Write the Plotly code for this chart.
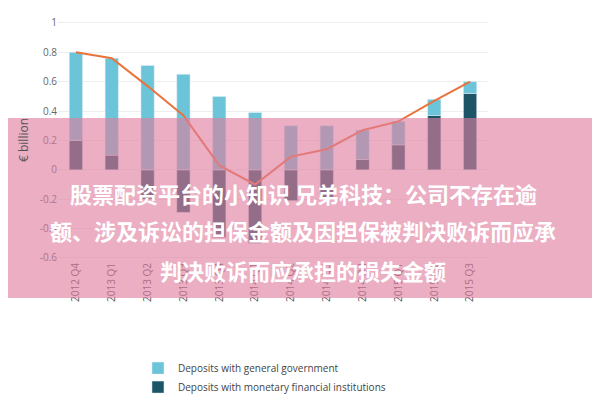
import plotly.graph_objects as go

quarters = ["2012 Q4","2013 Q1","2013 Q2","2013 Q3","2013 Q4","2014 Q1","2014 Q2","2014 Q3","2014 Q4","2015 Q1","2015 Q2","2015 Q3"]
gov = [0.60, 0.66, 0.71, 0.65, 0.50, 0.39, 0.30, 0.30, 0.20, 0.16, 0.11, 0.08]
mfi = [0.20, 0.10, -0.20, -0.29, -0.46, -0.50, -0.21, -0.20, 0.07, 0.17, 0.37, 0.52]
total = [0.80, 0.76, 0.57, 0.37, 0.03, -0.10, 0.09, 0.14, 0.27, 0.33, 0.47, 0.60]
overlay_lines = ["股票配资平台的小知识 兄弟科技：公司不存在逾",
                 "额、涉及诉讼的担保金额及因担保被判决败诉而应承",
                 "判决败诉而应承担的损失金额"]

fig = go.Figure()
fig.add_bar(x=quarters, y=mfi, name="Deposits with monetary financial institutions", marker_color="#1b5566", width=0.37, legendrank=2)
fig.add_bar(x=quarters, y=gov, name="Deposits with general government", marker_color="#6cc4d8", width=0.37, legendrank=1)
fig.add_scatter(x=quarters, y=total, name="Total Deposits", mode="lines", line=dict(color="#e8743b", width=2), legendrank=3)

shapes = [dict(type="rect", xref="paper", yref="paper", x0=-0.2, x1=1.4, y0=-0.158, y1=0.592,
               fillcolor="rgba(222,125,158,0.62)", line=dict(width=0), layer="above")]
anns = []
for txt, yp in zip(overlay_lines, [0.279, 0.125, -0.042]):
    anns.append(dict(text="<b>"+txt+"</b>", xref="paper", yref="paper", x=0.57, y=yp, showarrow=False,
                     font=dict(family="Noto Sans CJK SC", size=22, color="white"), xanchor="center", yanchor="middle"))

fig.update_layout(
    width=600, height=400, barmode="relative", plot_bgcolor="white", paper_bgcolor="white",
    margin=dict(l=50, r=120, t=12, b=148, autoexpand=False),
    font=dict(family="Open Sans", color="#666", size=10),
    xaxis=dict(tickangle=-90, tickfont=dict(size=10, color="#555"), showgrid=False, showline=False, ticks="", automargin=False),
    yaxis=dict(range=[-0.614, 1.02], tickvals=[-0.6,-0.4,-0.2,0,0.2,0.4,0.6,0.8,1],
               ticktext=["-0.6","-0.4","-0.2","0","0.2","0.4","0.6","0.8","1"], automargin=False,
               gridcolor="#eeeeee", zeroline=False, title=dict(text="€ billion", font=dict(size=12, color="#555"), standoff=8)),
    legend=dict(x=0.186, y=-0.39, xanchor="left", yanchor="top", font=dict(size=10, color="#444"),
                tracegroupgap=0, itemwidth=30),
    shapes=shapes, annotations=anns, bargap=0.6,
)
fig.write_html("out.html")
